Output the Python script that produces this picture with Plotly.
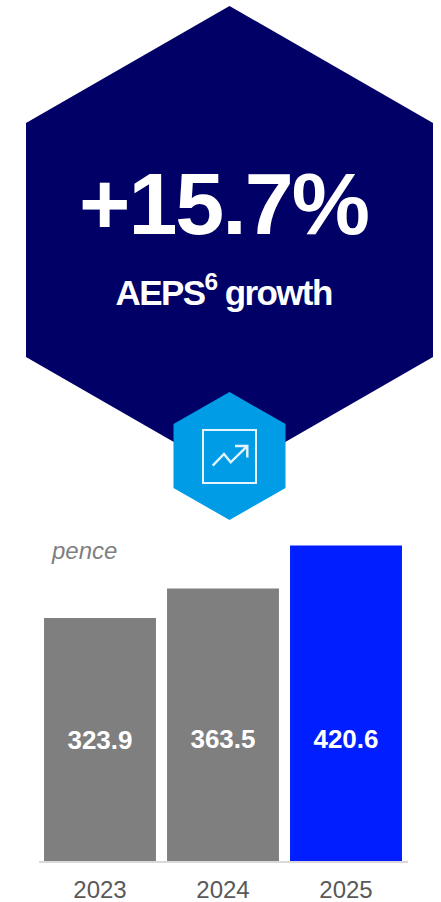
import plotly.graph_objects as go

W, H = 441, 902

years = ["2023", "2024", "2025"]
values = [323.9, 363.5, 420.6]
bar_colors = ["#7f7f7f", "#7f7f7f", "#001eff"]
label_height = [158, 160, 160]
headline = "+15.7%"
subhead = "AEPS<sup>6</sup> growth"
unit = "pence"

NAVY = "#000066"
CYAN = "#009de6"
ICON = "#e4f4fc"


def px(x):
    return x / W


def py(y):
    return 1 - y / H


def path(points, close=True):
    s = "M " + " L ".join(f"{px(x):.5f},{py(y):.5f}" for x, y in points)
    return s + (" Z" if close else "")


def deco(points, fill=None, line=None, close=True, width=2):
    return dict(
        type="path", xref="paper", yref="paper", path=path(points, close),
        fillcolor=fill if fill else "rgba(0,0,0,0)",
        line=dict(color=line if line else "rgba(0,0,0,0)", width=width if line else 0),
        layer="above",
    )


shapes = [
    deco([(229.5, 6), (433, 123), (433, 357), (229.5, 474), (26, 357), (26, 123)], fill=NAVY),
    deco([(229.5, 392), (285.5, 424), (285.5, 488), (229.5, 520), (173.5, 488), (173.5, 424)], fill=CYAN),
    deco([(203, 430), (256, 430), (256, 483), (203, 483)], line=ICON),
    deco([(212.7, 465.7), (224, 454), (230.7, 462.3), (246.7, 446.7)], line=ICON, close=False, width=2.4),
    deco([(235, 446), (247.3, 446), (247.3, 457.5)], line=ICON, close=False, width=2.4),
]

annotations = [
    dict(text=headline, x=px(223.5), y=py(203), xref="paper", yref="paper", showarrow=False,
         xanchor="center", yanchor="middle",
         font=dict(family="Liberation Sans", size=88, color="white", weight="bold")),
    dict(text=subhead, x=px(223), y=py(290), xref="paper", yref="paper", showarrow=False,
         xanchor="center", yanchor="middle",
         font=dict(family="Liberation Sans", size=35, color="white", weight="bold")),
    dict(text=f"<i>{unit}</i>", x=px(48.5), y=py(550), xref="paper", yref="paper", showarrow=False,
         xanchor="left", yanchor="middle",
         font=dict(family="Liberation Sans", size=24, color="#7f7f7f")),
]

fig = go.Figure()
fig.add_trace(go.Bar(x=years, y=values, marker=dict(color=bar_colors, line=dict(width=0)),
                     hoverinfo="skip", showlegend=False))
fig.add_trace(go.Scatter(x=years, y=label_height, mode="text",
                         text=[f"{v:.1f}" for v in values], textposition="middle center",
                         textfont=dict(family="Liberation Sans", size=26, color="white", weight="bold"),
                         hoverinfo="skip", showlegend=False))

fig.update_layout(
    width=W, height=H, margin=dict(l=0, r=0, t=0, b=0, pad=0),
    paper_bgcolor="white", plot_bgcolor="white", bargap=0.09,
    shapes=shapes, annotations=annotations,
    xaxis=dict(type="category", domain=[px(38.5), px(407.5)], range=[-0.5, 2.5], showgrid=False,
               zeroline=False, showline=True, linecolor="#d9d9d9", linewidth=2,
               ticks="outside", ticklen=6, tickcolor="rgba(0,0,0,0)", automargin=False,
               tickfont=dict(family="Liberation Sans", size=24, color="#595959")),
    yaxis=dict(domain=[py(861), py(523.5)], range=[0, 450], visible=False, automargin=False),
)

css = """
document.documentElement.style.margin='0';
document.documentElement.style.overflow='hidden';
document.body.style.margin='0';
document.body.style.overflow='hidden';
var a=document.querySelectorAll('.annotation-text');
if(a[0])a[0].style.letterSpacing='-2px';
if(a[1])a[1].style.letterSpacing='-1.6px';
"""
fig.write_html("out.html", post_script=css, config={"displayModeBar": False})
